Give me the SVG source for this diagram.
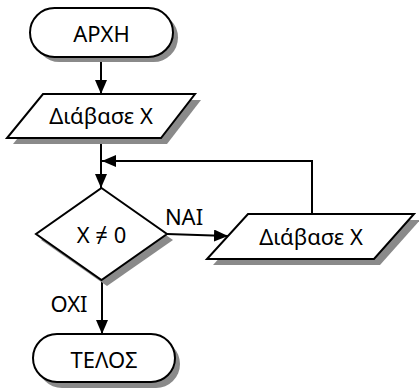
<svg xmlns="http://www.w3.org/2000/svg" width="419" height="390" viewBox="0 0 419 390">
  <style>
    .shape { fill: #ffffff; stroke: #000000; stroke-width: 2; }
    .shadow { fill: #8a8a8a; stroke: none; }
    .label { font-family: "Noto Sans", "Open Sans", sans-serif; font-size: 22px; fill: #000000; text-anchor: middle; }
    .wire { fill: none; stroke: #000000; stroke-width: 2; }
  </style>
  <defs>
    <marker id="arrow" viewBox="0 0 14 12" refX="14" refY="6" markerWidth="14" markerHeight="12" markerUnits="userSpaceOnUse" orient="auto">
      <path d="M0,0 L14,6 L0,12 Z" fill="#000000"/>
    </marker>
  </defs>

  <rect width="419" height="390" fill="#ffffff"/>

  <!-- connectors -->
  <g id="connectors">
    <line class="wire" x1="101" y1="58" x2="101" y2="94" marker-end="url(#arrow)"/>
    <line class="wire" x1="101" y1="138" x2="101" y2="188" marker-end="url(#arrow)"/>
    <polyline class="wire" points="312,214 312,161 102,161" marker-end="url(#arrow)"/>
    <line class="wire" x1="167" y1="234" x2="228" y2="236" marker-end="url(#arrow)"/>
    <line class="wire" x1="102" y1="280" x2="102" y2="334" marker-end="url(#arrow)"/>
    <text class="label" x="184" y="225">ΝΑΙ</text>
    <text class="label" x="69" y="312">ΟΧΙ</text>
  </g>

  <!-- start terminal -->
  <g id="start">
    <rect class="shadow" x="35" y="13" width="143" height="49" rx="24.5"/>
    <rect class="shape" x="30" y="8" width="143" height="49" rx="24.5"/>
    <text class="label" x="101.5" y="42">ΑΡΧΗ</text>
  </g>

  <!-- input: read X -->
  <g id="read1">
    <polygon class="shadow" points="49,100 201,100 167,144 13,144"/>
    <polygon class="shape" points="43,94 195,94 161,138 7,138"/>
    <text class="label" x="101" y="124">Διάβασε Χ</text>
  </g>

  <!-- decision -->
  <g id="decision">
    <polygon class="shadow" points="107,194 173,240 107,286 41,240"/>
    <polygon class="shape" points="101.5,188 167,234 101.5,280 36,234"/>
    <text class="label" x="101.5" y="243">Χ ≠ 0</text>
  </g>

  <!-- input: read X inside loop -->
  <g id="read2">
    <polygon class="shadow" points="254,220 420,220 380,265 213,265"/>
    <polygon class="shape" points="248,214 414,214 374,259 207,259"/>
    <text class="label" x="311" y="245">Διάβασε Χ</text>
  </g>

  <!-- end terminal -->
  <g id="end">
    <rect class="shadow" x="38" y="340" width="142" height="48" rx="24"/>
    <rect class="shape" x="33" y="334" width="142" height="48" rx="24"/>
    <text class="label" x="104" y="368">ΤΕΛΟΣ</text>
  </g>
</svg>
